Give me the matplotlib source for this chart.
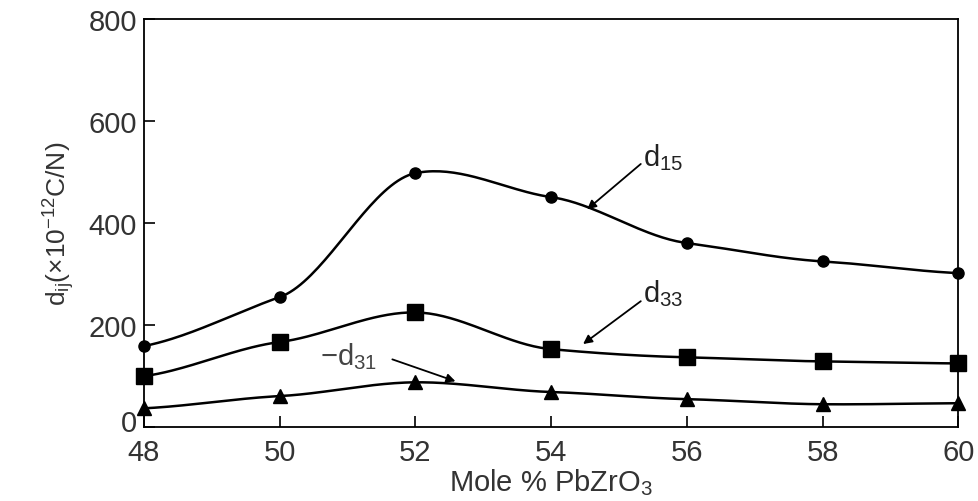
import numpy as np
import matplotlib.pyplot as plt
import matplotlib.transforms as mtransforms

plt.rcParams['font.family'] = ['Liberation Sans', 'DejaVu Sans']
plt.rcParams['mathtext.fontset'] = 'custom'
plt.rcParams['mathtext.rm'] = 'Liberation Sans'
plt.rcParams['mathtext.it'] = 'Liberation Sans'

mole = [48, 50, 52, 54, 56, 58, 60]
d15 = [159, 255, 498, 451, 361, 325, 302]
d33 = [100, 167, 225, 153, 137, 129, 125]
d31 = [37, 61, 88, 69, 55, 45, 47]


def smooth(x, y, tension=0.55, n=40):
    # cardinal spline through the points, only for drawing
    x = np.asarray(x, float)
    y = np.asarray(y, float)
    h = np.diff(x)
    m = np.gradient(y, x) * tension
    xs, ys = [], []
    for i in range(len(x) - 1):
        t = np.linspace(0, 1, n)
        h00 = 2 * t**3 - 3 * t**2 + 1
        h10 = t**3 - 2 * t**2 + t
        h01 = -2 * t**3 + 3 * t**2
        h11 = t**3 - t**2
        xs.append(x[i] + t * h[i])
        ys.append(h00 * y[i] + h10 * h[i] * m[i] + h01 * y[i + 1] + h11 * h[i] * m[i + 1])
    return np.concatenate(xs), np.concatenate(ys)


fig = plt.figure(figsize=(9.79, 5.02), dpi=100)
ax = fig.add_axes([0.147, 0.147, 0.832, 0.813])

for ys, mk, ms in [(d15, 'o', 8), (d33, 's', 12), (d31, '^', 10)]:
    sx, sy = smooth(mole, ys)
    ax.plot(sx, sy, color='black', lw=1.8, clip_on=False)
    ax.plot(mole, ys, mk, color='black', ms=ms, clip_on=False, zorder=3)

arrow = dict(arrowstyle='-|>', color='black', lw=1.3, mutation_scale=13,
             shrinkA=0, shrinkB=0)
ax.annotate('', xy=(54.53, 427), xytext=(55.32, 516), arrowprops=arrow)
ax.text(55.36, 530, 'd$_{15}$', fontsize=21, color='#222222', va='center')
ax.annotate('', xy=(54.47, 163), xytext=(55.32, 247), arrowprops=arrow)
ax.text(55.36, 263, 'd$_{33}$', fontsize=21, color='#222222', va='center')
ax.annotate('', xy=(52.59, 90), xytext=(51.66, 133), arrowprops=arrow)
ax.text(50.6, 140, '$-$d$_{31}$', fontsize=21, color='#444444', va='center')

ax.set_xlim(48, 60)
ax.set_ylim(0, 800)
ax.set_xticks(mole)
ax.set_yticks([0, 200, 400, 600, 800])
ax.tick_params(direction='in', length=8, width=1.2, labelsize=21,
               labelcolor='#333333')
ax.tick_params(axis='y', pad=5)
ax.tick_params(axis='x', pad=8)
for s in ax.spines.values():
    s.set_linewidth(1.3)
ax.set_xlabel('Mole % PbZrO$_3$', fontsize=21, color='#333333', labelpad=0)
ax.set_ylabel('d$_{ij}$(×10$^{-12}$C/N)', fontsize=19, color='#333333', labelpad=8)

fig.canvas.draw()
zero = ax.get_yticklabels()[0]
zero.set_transform(zero.get_transform() +
                   mtransforms.ScaledTranslation(0, 5 / 72, fig.dpi_scale_trans))

fig.savefig('out.png', dpi=100)
